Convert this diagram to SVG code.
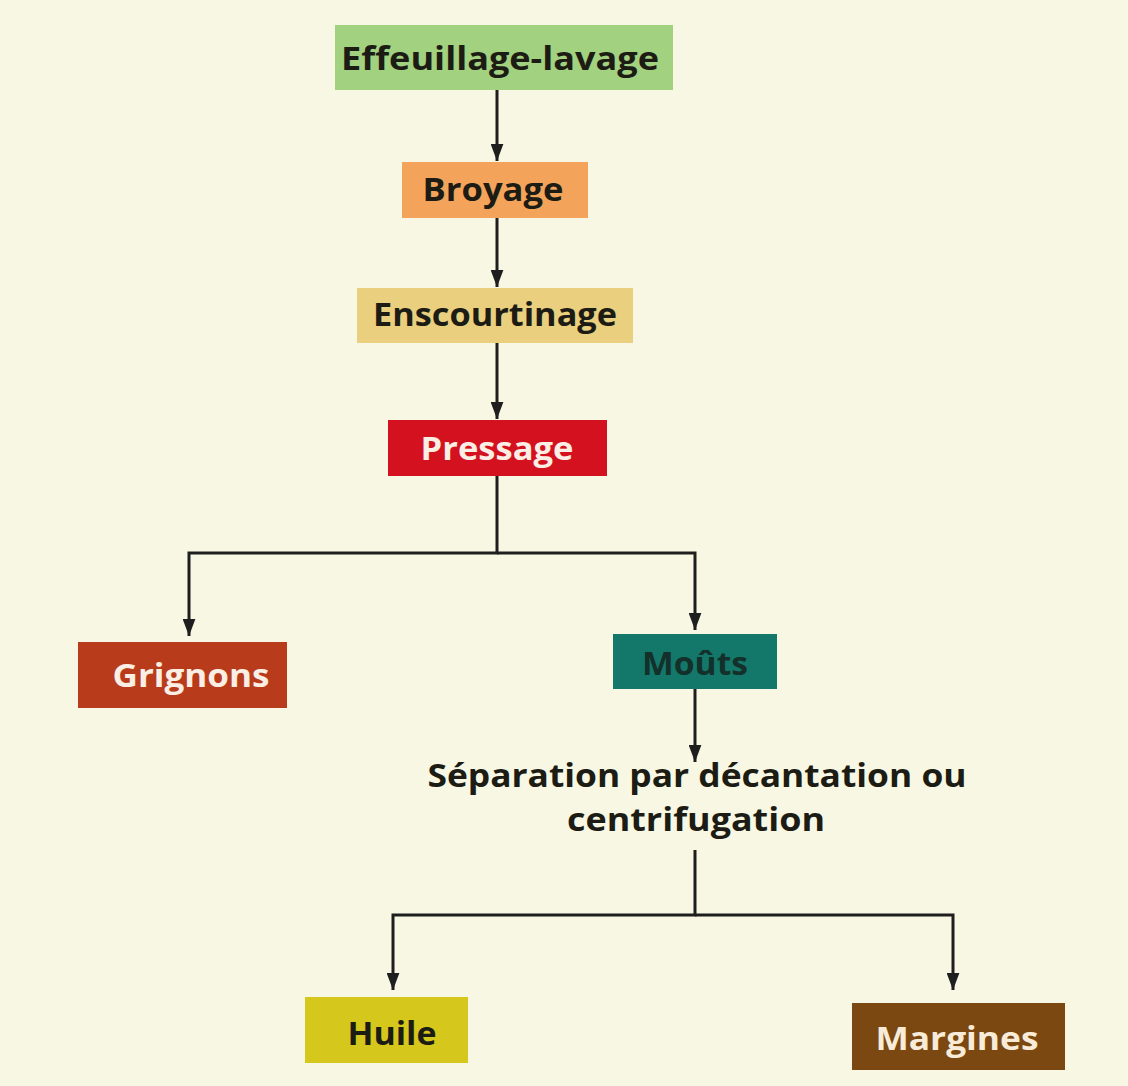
<svg xmlns="http://www.w3.org/2000/svg" width="1128" height="1086" viewBox="0 0 1128 1086">
  <defs>
    <marker id="arr" viewBox="0 0 16 12" refX="16" refY="6" markerWidth="17" markerHeight="13" markerUnits="userSpaceOnUse" orient="auto">
      <path d="M0,0 L16,6 L0,12 z" fill="#1e1e1e"/>
    </marker>
    <style>
      .lbl { font-family: "Open Sans", "Noto Sans", "Liberation Sans", sans-serif; font-weight: 700; font-size: 33px; text-anchor: middle; }
      .dark { fill: #1c1c14; }
      .light { fill: #fbeee4; }
      .edge { fill: none; stroke: #1e1e1e; stroke-width: 3; }
    </style>
  </defs>
  <rect x="0" y="0" width="1128" height="1086" fill="#f7f7e3"/>

  <g id="connectors">
    <path class="edge" d="M497 90 V161" marker-end="url(#arr)"/>
    <path class="edge" d="M497 218 V287" marker-end="url(#arr)"/>
    <path class="edge" d="M497 343 V419" marker-end="url(#arr)"/>
    <path class="edge" d="M497 476 V553 H189 V636" marker-end="url(#arr)"/>
    <path class="edge" d="M497 553 H695 V630" marker-end="url(#arr)"/>
    <path class="edge" d="M695 689 V762" marker-end="url(#arr)"/>
    <path class="edge" d="M695 850 V915 H393 V990" marker-end="url(#arr)"/>
    <path class="edge" d="M695 915 H953 V990" marker-end="url(#arr)"/>
  </g>

  <g id="effeuillage">
    <rect x="335" y="25" width="338" height="65" fill="#a2d17f"/>
    <text class="lbl dark" x="500" y="70" textLength="318" lengthAdjust="spacingAndGlyphs">Effeuillage-lavage</text>
  </g>
  <g id="broyage">
    <rect x="402" y="162" width="186" height="56" fill="#f3a45a"/>
    <text class="lbl dark" x="493" y="201" textLength="141" lengthAdjust="spacingAndGlyphs">Broyage</text>
  </g>
  <g id="enscourtinage">
    <rect x="357" y="288" width="276" height="55" fill="#e9cf7e"/>
    <text class="lbl dark" x="495" y="326" textLength="244" lengthAdjust="spacingAndGlyphs">Enscourtinage</text>
  </g>
  <g id="pressage">
    <rect x="388" y="420" width="219" height="56" fill="#d4121f"/>
    <text class="lbl light" x="497" y="460" textLength="153" lengthAdjust="spacingAndGlyphs">Pressage</text>
  </g>
  <g id="grignons">
    <rect x="78" y="642" width="209" height="66" fill="#b83c1c"/>
    <text class="lbl light" x="191" y="687" textLength="157" lengthAdjust="spacingAndGlyphs">Grignons</text>
  </g>
  <g id="mouts">
    <rect x="613" y="634" width="164" height="55" fill="#13786a"/>
    <text class="lbl" fill="#14302a" x="695" y="675" textLength="106" lengthAdjust="spacingAndGlyphs">Moûts</text>
  </g>
  <g id="separation">
    <text class="lbl dark" x="697" y="787" textLength="539" lengthAdjust="spacingAndGlyphs">Séparation par décantation ou</text>
    <text class="lbl dark" x="696" y="831" textLength="258" lengthAdjust="spacingAndGlyphs">centrifugation</text>
  </g>
  <g id="huile">
    <rect x="305" y="997" width="163" height="66" fill="#d6c71c"/>
    <text class="lbl dark" x="392" y="1045" textLength="89" lengthAdjust="spacingAndGlyphs">Huile</text>
  </g>
  <g id="margines">
    <rect x="852" y="1003" width="213" height="67" fill="#7b4812"/>
    <text class="lbl" fill="#f8ecd8" x="957" y="1050" textLength="163" lengthAdjust="spacingAndGlyphs">Margines</text>
  </g>
</svg>
